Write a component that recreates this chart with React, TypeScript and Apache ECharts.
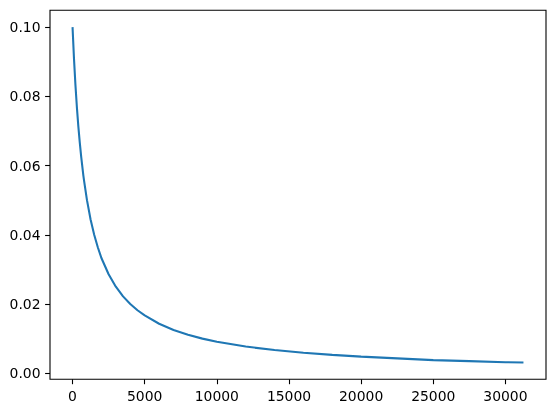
import React, { useEffect, useRef } from "react";
import * as echarts from "echarts";

const steps = [0, 100, 200, 300, 400, 500, 600, 750, 800, 1000, 1250, 1500, 1750, 2000, 2500, 3000, 3500, 4000, 4500, 5000, 6000, 7000, 8000, 9000, 10000, 12000, 14000, 16000, 18000, 20000, 22500, 25000, 27500, 30000, 31250];
const rates = [0.1, 0.0909, 0.0833, 0.0769, 0.0714, 0.0667, 0.0625, 0.0571, 0.0556, 0.05, 0.0444, 0.04, 0.0364, 0.0333, 0.0286, 0.025, 0.0222, 0.02, 0.0182, 0.0167, 0.0143, 0.0125, 0.0111, 0.01, 0.0091, 0.0077, 0.0067, 0.0059, 0.0053, 0.0048, 0.0043, 0.0038, 0.0035, 0.0032, 0.0031];
const xTicks = [0, 5000, 10000, 15000, 20000, 25000, 30000];
const yTicks = [0, 0.02, 0.04, 0.06, 0.08, 0.1];

export default function App() {
  const ref = useRef<HTMLDivElement>(null);
  useEffect(() => {
    const chart = echarts.init(ref.current!, null, { renderer: "svg" });
    const font = { fontFamily: "DejaVu Sans", fontSize: 13.9, color: "#000" };
    chart.setOption({
      animation: false,
      grid: {
        left: 50,
        right: 10,
        top: 10.3,
        bottom: 33.7,
        show: true,
        borderColor: "#000",
        borderWidth: 1.1,
        backgroundColor: "transparent",
      },
      xAxis: {
        type: "value",
        min: -1562.5,
        max: 32812.5,
        splitLine: { show: false },
        axisLine: { show: false, onZero: false },
        axisTick: { show: true, inside: false, length: 4.9, customValues: xTicks, lineStyle: { color: "#000", width: 1.1 } },
        axisLabel: { ...font, margin: 9.5, customValues: xTicks, formatter: (v: number) => String(v) },
      },
      yAxis: {
        type: "value",
        min: -0.00175,
        max: 0.10485,
        splitLine: { show: false },
        axisLine: { show: false, onZero: false },
        axisTick: { show: true, inside: false, length: 4.9, customValues: yTicks, lineStyle: { color: "#000", width: 1.1 } },
        axisLabel: { ...font, margin: 9.5, customValues: yTicks, formatter: (v: number) => v.toFixed(2) },
      },
      series: [
        {
          type: "line",
          data: steps.map((s, i) => [s, rates[i]]),
          showSymbol: false,
          smooth: false,
          lineStyle: { color: "#1f77b4", width: 2.08 },
        },
      ],
    });
    return () => chart.dispose();
  }, []);
  return <div ref={ref} style={{ position: "fixed", left: 0, top: 0, width: 556, height: 413 }} />;
}
